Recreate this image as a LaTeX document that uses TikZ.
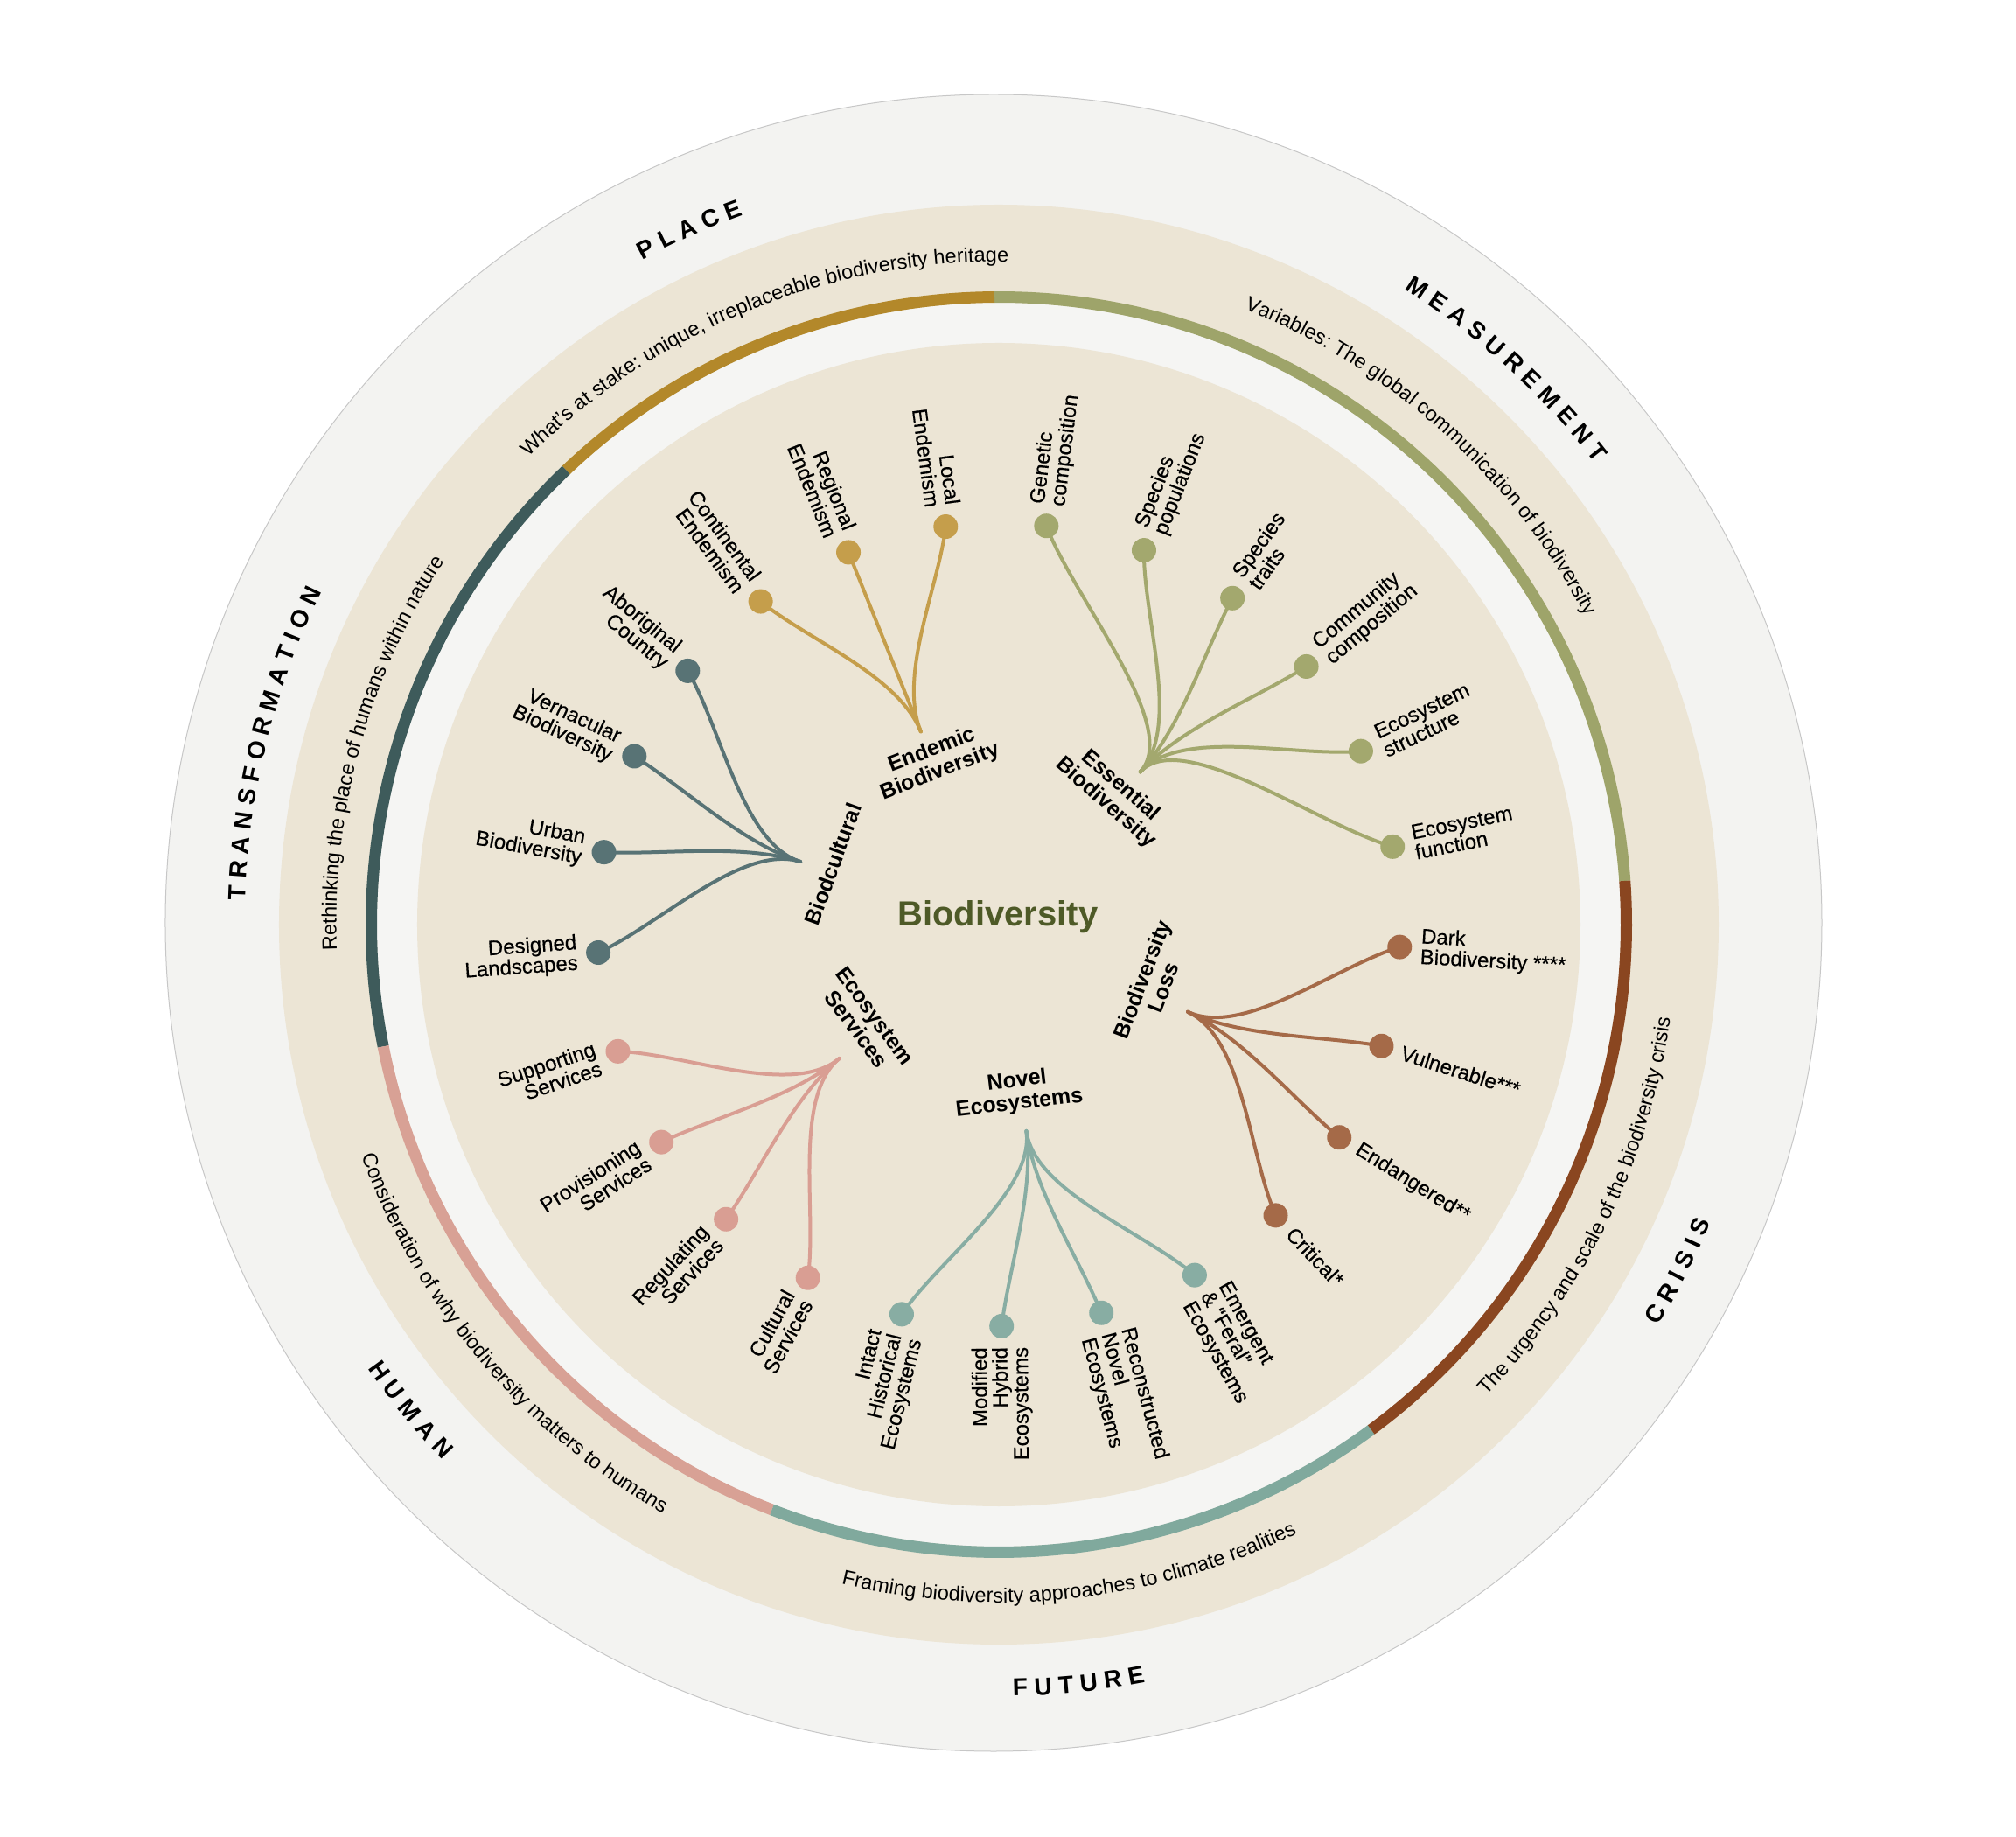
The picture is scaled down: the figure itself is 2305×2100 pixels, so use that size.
\documentclass[tikz,border=0pt]{standalone}
\usepackage{fontspec}
\setmainfont{Liberation Sans}
\newfontfamily\medfam[FakeBold=0.45]{Liberation Sans}
\usetikzlibrary{calc,decorations.text}
\definecolor{paper}{HTML}{F3F3F1}
\definecolor{band}{HTML}{F5F5F3}
\definecolor{beige}{HTML}{ECE5D5}
\definecolor{arcOlive}{HTML}{9EA46A}
\definecolor{arcGold}{HTML}{B3882A}
\definecolor{arcSlate}{HTML}{3E5B5B}
\definecolor{arcPink}{HTML}{D8A195}
\definecolor{arcTeal}{HTML}{80A99D}
\definecolor{arcBrown}{HTML}{8A4620}
\definecolor{cOlive}{HTML}{A3A86E}
\definecolor{cGold}{HTML}{C59E4B}
\definecolor{cSlate}{HTML}{587375}
\definecolor{cPink}{HTML}{D99E93}
\definecolor{cTeal}{HTML}{88ADA3}
\definecolor{cBrown}{HTML}{A56A48}
\definecolor{bioGreen}{HTML}{4E5A27}
\newcommand\labfont{\medfam\fontsize{24}{23.5}\selectfont}
\newcommand\grpfont{\fontsize{25}{26}\selectfont\bfseries}
\newcommand\subfont{\fontsize{23.5}{28}\selectfont}
\newcommand\capfont{\fontsize{28}{32}\selectfont\bfseries}
\newcommand\midfont{\fontsize{40}{44}\selectfont\bfseries}
\tikzset{
  dotnode/.style={circle, fill=#1, inner sep=0pt, minimum size=28pt},
  branch/.style={draw=#1, line width=4pt, line cap=round},
  lab/.style={font=\labfont, inner sep=0pt, text=black},
  grp/.style={font=\grpfont, inner sep=0pt, align=center, text=black},
  ringarc/.style={line width=13pt, draw=#1},
  captext/.style={decorate, decoration={text along path, text align=center, text={|\capfont|#1}}},
  subtext/.style={decorate, decoration={text along path, text align=center, text={|\subfont|#1}}}
}
\begin{document}
\begin{tikzpicture}[x=1pt,y=1pt]
\useasboundingbox (-1142,-1043) rectangle (1163,1057);
\fill[white] (-1142,-1043) rectangle (1163,1057);
% discs and rings
\fill[paper] (-6,2) circle[radius=947pt];
\draw[black!22, line width=1pt] (-6,2) circle[radius=947pt];
\fill[beige] (0,0) circle[radius=823pt];
\fill[band] (0,0) circle[radius=711pt];
\draw[ringarc=arcOlive] (4:717.5pt) arc[start angle=4, end angle=90.4, radius=717.5pt];
\draw[ringarc=arcGold] (90.4:717.5pt) arc[start angle=90.4, end angle=133.6, radius=717.5pt];
\draw[ringarc=arcSlate] (133.6:717.5pt) arc[start angle=133.6, end angle=191.2, radius=717.5pt];
\draw[ringarc=arcPink] (191.2:717.5pt) arc[start angle=191.2, end angle=248.8, radius=717.5pt];
\draw[ringarc=arcTeal] (248.8:717.5pt) arc[start angle=248.8, end angle=306.4, radius=717.5pt];
\draw[ringarc=arcBrown] (306.4:717.5pt) arc[start angle=306.4, end angle=364, radius=717.5pt];
\fill[beige] (0,0) circle[radius=665pt];
% outer capital labels
\path[captext={P L A C E}] (174:862pt) arc[start angle=174, end angle=54, radius=862pt];
\path[captext={M E A S U R E M E N T}] (107.6:862pt) arc[start angle=107.6, end angle=-12.4, radius=862pt];
\path[captext={T R A N S F O R M A T I O N}] (226:862pt) arc[start angle=226, end angle=106, radius=862pt];
\path[captext={C R I S I S}] (-87:882pt) arc[start angle=-87, end angle=33, radius=882pt];
\path[captext={F U T U R E}] (-144:882pt) arc[start angle=-144, end angle=-24, radius=882pt];
\path[captext={H U M A N}] (159.5:882pt) arc[start angle=159.5, end angle=279.5, radius=882pt];
% ring subtitles
\path[subtext={What’s at stake: unique, irreplaceable biodiversity heritage}] (172.2:757.5pt) arc[start angle=172.2, end angle=52.2, radius=757.5pt];
\path[subtext={Variables: The global communication of biodiversity}] (108:757.5pt) arc[start angle=108, end angle=-12, radius=757.5pt];
\path[subtext={Rethinking the place of humans within nature}] (224.5:757.5pt) arc[start angle=224.5, end angle=104.5, radius=757.5pt];
\path[subtext={Consideration of why biodiversity matters to humans}] (160.1:775pt) arc[start angle=160.1, end angle=280.1, radius=775pt];
\path[subtext={Framing biodiversity approaches to climate realities}] (-143.7:775pt) arc[start angle=-143.7, end angle=-23.7, radius=775pt];
\path[subtext={The urgency and scale of the biodiversity crisis}] (-86:775pt) arc[start angle=-86, end angle=34, radius=775pt];
% coordinates
\foreach \k in {0,...,24} \coordinate (p\k) at ({83.2-14.4*\k}:459);
\coordinate (hE) at (47.2:238);
\coordinate (hL) at (-24.8:238);
\coordinate (hN) at (-82.4:238);
\coordinate (hS) at (220:238);
\coordinate (hB) at (162.4:238);
\coordinate (hD) at (112:238);
% branches
\foreach \k in {0,...,5} \draw[branch=cOlive] (hE) .. controls ($(hE)+(47.2:70)$) and ($(p\k)!0.3!(hE)$) .. (p\k);
\foreach \k in {6,...,9} \draw[branch=cBrown] (hL) .. controls ($(hL)+(-24.8:70)$) and ($(p\k)!0.3!(hL)$) .. (p\k);
\foreach \k in {10,...,13} \draw[branch=cTeal] (hN) .. controls ($(hN)+(-82.4:70)$) and ($(p\k)!0.3!(hN)$) .. (p\k);
\foreach \k in {14,...,17} \draw[branch=cPink] (hS) .. controls ($(hS)+(220:70)$) and ($(p\k)!0.3!(hS)$) .. (p\k);
\foreach \k in {18,...,21} \draw[branch=cSlate] (hB) .. controls ($(hB)+(162.4:70)$) and ($(p\k)!0.3!(hB)$) .. (p\k);
\foreach \k in {22,...,24} \draw[branch=cGold] (hD) .. controls ($(hD)+(112:70)$) and ($(p\k)!0.3!(hD)$) .. (p\k);
% dots
\foreach \k in {0,...,5} \node[dotnode=cOlive] (d\k) at (p\k) {};
\foreach \k in {6,...,9} \node[dotnode=cBrown] (d\k) at (p\k) {};
\foreach \k in {10,...,13} \node[dotnode=cTeal] (d\k) at (p\k) {};
\foreach \k in {14,...,17} \node[dotnode=cPink] (d\k) at (p\k) {};
\foreach \k in {18,...,21} \node[dotnode=cSlate] (d\k) at (p\k) {};
\foreach \k in {22,...,24} \node[dotnode=cGold] (d\k) at (p\k) {};
% leaf labels, right side
\foreach \k/\t in {0/{Genetic\\composition}, 1/{Species\\populations}, 2/{Species\\traits},
  3/{Community\\composition}, 4/{Ecosystem\\structure}, 5/{Ecosystem\\function},
  6/{Dark\\Biodiversity ****}, 7/{Vulnerable***}, 8/{Endangered**}, 9/{Critical*},
  10/{Emergent\\\& “Feral”\\Ecosystems}, 11/{Reconstructed\\Novel\\Ecosystems}} {
  \pgfmathsetmacro\a{83.2-14.4*\k}
  \node[lab, rotate=\a, anchor=west, align=left] (t\k) at (\a:483) {\t};
}
% leaf labels, left side
\foreach \k/\t in {12/{Modified\\Hybrid\\Ecosystems}, 13/{Intact\\Historical\\Ecosystems},
  14/{Cultural\\Services}, 15/{Regulating\\Services}, 16/{Provisioning\\Services},
  17/{Supporting\\Services}, 18/{Designed\\Landscapes}, 19/{Urban\\Biodiversity},
  20/{Vernacular\\Biodiversity}, 21/{Aboriginal\\Country}, 22/{Continental\\Endemism},
  23/{Regional\\Endemism}, 24/{Local\\Endemism}} {
  \pgfmathsetmacro\a{83.2-14.4*\k}
  \node[lab, rotate={\a+180}, anchor=east, align=right] (t\k) at (\a:483) {\t};
}
% group labels
\node[grp, rotate=-41.3] (gE) at (48.7:198) {Essential\\Biodiversity};
\node[grp, rotate=69] (gL) at (-21:188) {Biodiversity\\Loss};
\node[grp, rotate=6.6] (gN) at (-83.4:193) {Novel\\Ecosystems};
\node[grp, rotate=306.3] (gS) at (216.3:189) {Ecosystem\\Services};
\node[grp, rotate=70] (gB) at (160:202) {Biodcultural};
\node[grp, rotate=21] (gD) at (111:200) {Endemic\\Biodiversity};
% centre
\node[font=\midfont, text=bioGreen, inner sep=0pt] (core) at (-1,9) {Biodiversity};
\end{tikzpicture}
\end{document}
